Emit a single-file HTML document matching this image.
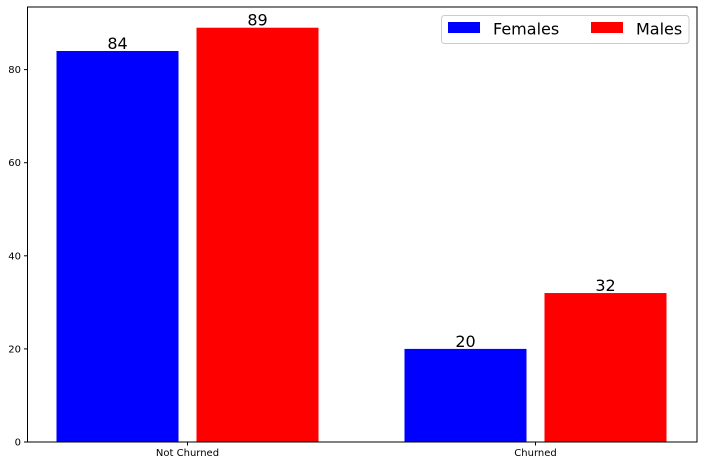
<!DOCTYPE html>
<html><head><meta charset="utf-8"><style>
body{margin:0;background:#fff;}
svg{font-family:"DejaVu Sans","Liberation Sans",sans-serif;}
</style></head><body>
<svg width="703" height="466">
<g id="plot"></g>
<rect x="27.5" y="7" width="669.5" height="435" fill="none" stroke="#000" stroke-width="1"/>
<g>
<rect x="441.5" y="15.5" width="247.5" height="28" rx="3" fill="#fff" stroke="#ccc"/>
<rect x="448" y="22" width="32" height="11" fill="#0000ff"/>
<text x="493" y="34.5" font-size="16">Females</text>
<rect x="591" y="22" width="32" height="11" fill="#ff0000"/>
<text x="636" y="34.5" font-size="16">Males</text>
</g>
</svg>
<script>
const categories=["Not Churned","Churned"];
const females=[84,20];
const males=[89,32];
const yTicks=[0,20,40,60,80];
const yMax=93.45;
const y0=442, yTop=7;
const ys=v=>y0-(v/yMax)*(y0-yTop);
const xCenter=i=>187.5+i*348;
const bw=122, gap=18;
const g=document.getElementById('plot');
const NS="http://www.w3.org/2000/svg";
function mk(t,a){const e=document.createElementNS(NS,t);for(const k in a)e.setAttribute(k,a[k]);g.appendChild(e);return e;}
yTicks.forEach(v=>{
 const l=mk('line',{x1:24,x2:27.5,y1:ys(v),y2:ys(v),stroke:'#000'});
 
 
 const t=mk('text',{x:21,y:ys(v)+3.5,'font-size':10,'text-anchor':'end'});
 t.textContent=v;
 
 
});
categories.forEach((c,i)=>{
 const cx=xCenter(i);
 const l=mk('line',{x1:cx,x2:cx,y1:442,y2:445.5,stroke:'#000'});
 
 
 const t=mk('text',{x:cx,y:456,'font-size':10,'text-anchor':'middle'});
 t.textContent=c;
 
 
 [[females,'#0000ff',-1,'females'],[males,'#ff0000',1,'males']].forEach(([arr,col,s,n])=>{
  const v=arr[i];
  const x=s<0?cx-gap/2-bw:cx+gap/2;
  const r=mk('rect',{x:x,y:ys(v),width:bw,height:y0-ys(v),fill:col});
  
  
  const t=mk('text',{x:x+bw/2,y:ys(v)-2,'font-size':16,'text-anchor':'middle'});
  t.textContent=v;
  
  
 });
});
</script>
</body></html>
